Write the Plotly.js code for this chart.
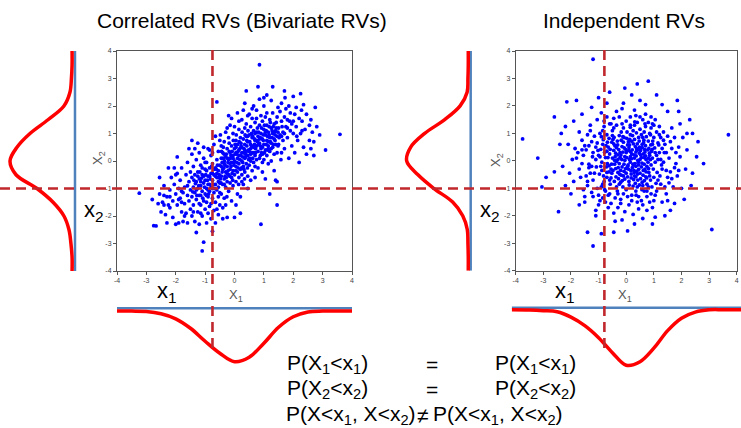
<!DOCTYPE html>
<html>
<head>
<meta charset="utf-8">
<script src="https://cdn.plot.ly/plotly-3.0.1.min.js"></script>
<style>html,body{margin:0;padding:0;background:#fff;}#chart{width:741px;height:428px;}</style>
</head>
<body>
<div id="chart"></div>
<script>
// ---- scatter data (X1, X2 pairs) ----
const corrPoints = [
[-3.24,-1.17],[-2.75,-2.35],[-2.67,-2.36],[-2.6,-1.55],[-2.55,-0.6],[-2.8,-1.4],[-2.5,-1.85],[-2.55,-1.2],
[-2.45,-1.5],[-2.4,-0.9],[-2.35,-1.95],[-2.3,-2.25],[-2.3,-1.3],[-2.25,-0.25],[-2.2,-1.7],[-2.2,-1.05],[-2.15,-0.6],[-2.1,-2.05],
[-2.1,-1.45],[-2.05,-0.85],[-2.0,-1.2],[-2.0,-2.3],[-1.95,-0.45],[-1.95,-1.6],[-1.9,-1.0],[-1.9,-2.25],[-1.85,-1.35],[-1.85,-0.7],
[-1.8,-1.85],[-1.8,-0.25],[-1.75,-1.15],[-1.75,-2.2],[-1.7,-0.95],[-1.7,-1.55],[-1.65,-0.5],[-1.65,-1.9],[-1.6,-1.25],[-1.6,-0.05],
[-1.6,-2.25],[-1.55,-0.75],[-1.55,-1.45],[-1.5,-1.05],[-1.5,-1.75],[-1.5,-0.4],[-2.4,-1.25],[-2.0,-0.5],[-1.7,-2.0],[-2.25,-1.6],
[-1.45,0.75],[-1.55,0.45],[-1.95,0.15],[-2.05,-0.25],[-1.8,-1.5],
[-1.45,-1.3],[-1.45,-0.6],[-1.45,-2.0],[-1.4,-0.95],[-1.4,-0.2],[-1.4,-1.6],[-1.35,-1.15],[-1.35,0.45],[-1.35,-2.2],[-1.3,-0.75],
[-1.3,-1.4],[-1.3,-2.6],[-1.3,0.05],[-1.25,-1.0],[-1.25,-1.85],[-1.25,-0.4],[-1.2,-1.25],[-1.2,-0.65],[-1.2,-2.3],[-1.2,0.3],
[-1.15,-0.9],[-1.15,-1.6],[-1.15,-0.15],[-1.1,-1.1],[-1.1,-3.27],[-1.1,-0.5],[-1.1,-2.0],[-1.05,-0.8],[-1.05,-1.45],[-1.05,-2.95],
[-1.05,0.1],[-1.0,-1.2],[-1.0,-0.3],[-1.0,-1.75],[-1.0,-0.7],[-0.95,-1.0],[-0.95,-2.25],[-0.95,-0.05],[-0.95,-1.5],[-0.9,-0.55],
[-0.9,-1.3],[-0.9,0.45],[-0.9,-1.9],[-0.85,-0.85],[-0.85,-0.25],[-0.85,-1.65],[-0.85,-1.1],[-0.8,-0.45],[-0.8,-2.1],[-0.8,-0.95],
[-0.8,0.2],[-0.75,-1.35],[-0.75,-0.7],[-0.75,-2.55],[-0.75,-0.1],[-0.7,-1.15],[-0.7,-0.5],[-0.7,-1.8],[-0.7,0.6],[-0.65,-0.85],
[-0.65,-0.25],[-0.65,-1.5],[-0.65,-2.25],[-0.6,-0.6],[-0.6,-1.05],[-0.6,0.05],[-0.6,2.15],[-0.55,-0.35],[-0.55,-1.3],[-0.55,-1.95],
[-0.55,0.35],[-0.5,-0.8],[-0.5,-0.15],[-0.5,-1.6],[-0.5,0.75],[-1.45,0.25],[-1.35,-0.5],[-1.25,0.65],[-1.15,-1.9],[-1.05,0.5],
[-0.95,-0.35],[-0.85,0.4],[-0.75,0.3],[-0.65,0.9],[-0.55,-0.95],[-1.4,-1.85],[-1.2,-1.55],[-1.0,-0.05],[-0.8,-1.55],[-0.6,-1.75],
[-1.3,-1.05],[-1.1,-0.25],[-0.9,-0.85],[-0.7,-0.3],[-0.5,-1.15],[-0.6,-0.45],[-0.9,-1.05],[-1.15,-1.25],[-0.75,-1.0],[-0.55,-0.6],
[-0.45,-0.55],[-0.45,0.1],[-0.45,-1.2],[-0.45,0.55],[-0.4,-0.3],[-0.4,-0.85],[-0.4,0.3],[-0.4,-1.7],[-0.35,-0.1],[-0.35,-0.65],
[-0.35,0.7],[-0.35,-1.35],[-0.3,-0.4],[-0.3,0.15],[-0.3,-0.95],[-0.3,1.05],[-0.25,-0.2],[-0.25,-0.75],[-0.25,0.45],[-0.25,-2.05],
[-0.2,-0.5],[-0.2,0.05],[-0.2,-1.1],[-0.2,0.85],[-0.15,-0.3],[-0.15,0.3],[-0.15,-0.8],[-0.15,1.3],[-0.1,-0.05],[-0.1,-0.6],
[-0.1,0.55],[-0.1,-1.45],[-0.05,-0.35],[-0.05,0.2],[-0.05,-0.9],[-0.05,1.0],[0.0,0.0],[0.0,-0.5],[0.0,0.45],[0.0,-2.05],
[0.05,-0.2],[0.05,0.3],[0.05,-0.75],[0.05,0.75],[0.1,0.1],[0.1,-0.4],[0.1,0.6],[0.1,-1.2],[0.15,-0.1],[0.15,0.4],
[0.15,-0.6],[0.15,1.15],[0.2,0.2],[0.2,-0.3],[0.2,0.85],[0.2,-1.9],[0.25,0.0],[0.25,0.5],[0.25,-0.5],[0.25,1.5],
[0.3,0.3],[0.3,-0.2],[0.3,0.8],[0.3,-0.85],[0.35,0.1],[0.35,0.6],[0.35,-0.4],[0.35,1.2],[0.4,0.35],[0.4,-0.1],
[0.4,0.9],[0.4,2.55],[0.45,0.2],[0.45,-0.55],[0.45,0.7],[0.45,1.65],[-0.48,0.95],[-0.42,-0.05],[-0.38,0.5],[-0.32,-0.55],
[-0.28,0.25],[-0.22,-0.35],[-0.18,0.65],[-0.12,-0.2],[-0.08,0.35],[-0.02,-0.15],[0.02,0.6],[0.08,-0.05],[0.12,0.35],[0.18,0.05],
[0.22,0.65],[0.28,-0.05],[0.32,0.45],[0.38,0.15],[0.42,0.55],[0.48,0.05],[-0.46,-0.8],[-0.36,-0.25],[-0.26,-1.3],[-0.16,-0.55],
[-0.06,-0.7],[0.04,-0.35],[0.14,-0.85],[0.24,-0.25],[0.34,-0.65],[0.44,-0.25],[-0.44,0.35],[-0.34,0.0],[-0.24,0.1],[-0.14,0.1],
[-0.04,0.75],[0.06,0.95],[0.16,0.7],[0.26,1.05],[0.36,0.95],[0.46,1.1],[-0.2,1.65],[0.1,1.75],[0.3,1.85],[0.45,-1.0],
[0.0,1.25],[-0.3,-1.6],[0.2,-1.3],[-0.4,-2.1],[0.35,2.1],[0.15,1.45],[-0.1,1.55],[0.05,-1.6],[-0.25,1.2],[0.4,1.35],
[0.5,0.35],[0.5,-0.15],[0.5,0.95],[0.5,1.7],[0.55,0.6],[0.55,0.0],[0.55,1.25],[0.55,-0.7],[0.6,0.3],[0.6,0.85],
[0.6,-0.35],[0.6,1.55],[0.65,0.5],[0.65,1.1],[0.65,-0.05],[0.65,2.0],[0.7,0.2],[0.7,0.75],[0.7,1.4],[0.7,-0.6],
[0.75,0.55],[0.75,0.05],[0.75,1.05],[0.75,1.85],[0.8,0.35],[0.8,0.9],[0.8,-0.25],[0.8,2.7],[0.85,0.65],[0.85,1.3],
[0.85,0.1],[0.85,3.5],[0.9,0.45],[0.9,1.0],[0.9,-2.3],[0.9,1.65],[0.95,0.25],[0.95,0.8],[0.95,1.45],[0.95,-0.4],
[1.0,0.6],[1.0,1.15],[1.0,0.05],[1.0,2.0],[1.05,0.4],[1.05,0.95],[1.05,1.6],[1.05,-0.65],[1.1,0.75],[1.1,0.2],
[1.1,1.3],[1.1,2.4],[1.15,0.55],[1.15,1.05],[1.15,-0.1],[1.2,0.85],[1.2,0.35],[1.2,1.5],[1.2,-1.2],[1.25,0.65],
[1.25,1.2],[1.25,0.0],[1.25,2.2],[1.3,0.5],[1.3,1.0],[1.3,1.75],[1.3,2.7],[1.35,0.8],[1.35,0.25],[1.35,1.35],
[1.4,0.6],[1.4,1.1],[1.4,-0.7],[1.45,0.9],[1.45,1.6],[1.45,-1.6],[1.45,0.3],[0.52,0.7],[0.58,1.0],[0.62,0.1],
[0.68,0.8],[0.72,0.45],[0.78,1.2],[0.82,0.6],[0.88,0.85],[0.92,1.2],[0.98,0.95],[1.02,0.3],[1.08,1.1],[1.12,0.9],
[1.18,1.25],[1.22,0.7],[1.28,0.85],[1.32,1.25],[1.38,0.95],[1.42,1.4],[1.48,0.55],[0.6,1.9],[0.85,2.25],[1.0,2.3],
[0.7,-0.2],[0.95,-0.05],[1.15,0.45],[0.55,0.45],[0.88,0.2],[1.35,-0.35],[1.48,1.95],[0.75,1.55],[1.1,1.75],[1.45,-0.75],
[1.5,1.2],[1.5,0.6],[1.55,1.8],[1.55,0.95],[1.6,1.45],[1.6,0.3],[1.6,2.1],[1.65,1.05],[1.65,0.75],[1.7,1.6],
[1.7,2.55],[1.7,0.45],[1.75,1.25],[1.75,1.9],[1.8,0.85],[1.8,1.5],[1.85,2.0],[1.85,0.1],[1.9,1.1],[1.9,1.75],
[1.95,0.55],[1.95,1.35],[2.0,2.35],[2.0,1.0],[2.05,1.7],[2.05,0.3],[2.1,1.25],[2.1,1.95],[2.15,0.75],[2.2,1.55],
[2.2,-0.05],[2.25,2.45],[2.25,1.0],[2.3,1.45],[2.35,2.05],[2.35,0.5],[2.4,1.15],[2.45,1.7],[2.45,0.25],[1.58,0.05],
[1.72,2.3],[1.88,1.45],[2.12,0.9],[2.28,1.85],[1.62,1.25],
[2.55,0.75],[2.6,1.5],[2.6,0.45],[2.65,1.05],[2.7,0.7],[2.75,1.95],[2.8,1.25],[2.9,0.95],[3.1,0.4],[3.59,0.97],[2.55,1.3],[2.7,0.2],
[-1.42,-1.12],[-1.33,-0.82],[-1.22,-0.9],[-1.12,-0.62],[-1.02,-0.95],[-0.92,-0.7],[-0.82,-0.65],[-0.72,-0.85],[-0.62,-0.3],[-0.52,-0.5],
[-0.42,-0.4],[-0.32,-0.15],[-0.22,-0.05],[-0.12,0.2],[-0.02,-0.05],[0.08,0.25],[0.18,0.45],[0.28,0.15],[0.38,0.25],[0.48,0.4],
[0.58,0.55],[0.68,0.6],[0.78,0.7],[0.88,0.55],[0.98,0.75],[1.08,0.6],[1.18,0.95],[1.28,1.1],[1.38,0.75],[1.48,1.05],
[-1.38,-0.7],[-1.28,-1.25],[-1.18,-0.4],[-1.08,-1.35],[-0.98,-0.5],[-0.88,-1.2],[-0.78,-0.2],[-0.68,-1.0],[-0.58,-0.15],[-0.48,-0.65],
[-0.38,0.1],[-0.28,-0.6],[-0.18,0.35],[-0.08,-0.45],[0.02,0.25],[0.12,-0.25],[0.22,0.55],[0.32,-0.3],[0.42,0.75],[0.52,0.1],
[0.62,0.9],[0.72,0.3],[0.82,1.05],[0.92,0.3],[1.02,1.3],[1.12,0.4],[1.22,1.4],[1.32,0.6],[1.42,1.2],[1.52,0.85],
[-1.25,-0.55],[-1.05,-0.55],[-0.85,-0.55],[-0.65,-0.55],[-0.45,-0.2],[-0.25,-0.45],[-0.05,0.1],[0.15,0.2],[0.35,0.4],[0.55,0.25],
[0.75,0.75],[0.95,0.5],[1.15,0.7],[1.35,1.05],[-0.95,-1.25],[-0.75,-0.45],[-0.55,-0.75],[-0.35,-0.85],[-0.15,-0.1],[0.05,0.5],
[0.25,0.3],[0.45,0.9],[0.65,0.3],[0.85,0.8],[1.05,1.05],[1.25,0.45],[-1.15,-0.75],[-0.35,0.25],[0.25,-0.75],[0.7,1.0],
[-1.6,-0.9],[-1.8,-1.1],[1.6,0.9],[1.8,1.2],[-2.2,-1.3],[2.0,1.45],[-1.9,-1.4],[1.7,1.0],[-2.4,-1.6],[2.3,1.1]
];
const indPoints = [
[0.12,0.05],[-0.3,0.22],[0.45,-0.31],[0.78,0.4],[-0.62,-0.18],[0.2,0.71],[-0.05,-0.66],[0.55,0.12],[-0.41,0.55],[0.33,-0.82],
[-0.78,0.31],[0.9,-0.15],[0.02,0.35],[-0.2,-0.35],[0.63,0.66],[-0.55,-0.62],[0.38,0.44],[-0.12,0.88],[0.71,-0.58],[-0.88,-0.05],
[0.25,-0.12],[-0.35,-0.02],[0.08,-0.3],[0.48,0.28],[-0.68,0.68],[0.85,0.2],[-0.15,0.52],[0.3,-0.55],[-0.5,0.1],[0.6,-0.9],
[0.15,0.95],[-0.92,0.42],[0.95,0.6],[-0.25,-0.85],[0.42,0.02],[-0.05,0.15],[0.18,-0.48],[-0.45,0.38],[0.68,-0.3],[-0.7,-0.42],
[0.05,0.58],[0.52,-0.65],[-0.32,0.72],[0.82,-0.42],[-0.6,0.25],[0.28,0.22],[-0.18,-0.52],[0.4,0.62],[-0.82,-0.55],[0.72,0.05],
[-0.08,-0.12],[0.35,-0.2],[-0.38,-0.28],[0.58,0.48],[-0.22,0.3],[0.1,-0.75],[-0.58,-0.85],[0.88,-0.7],[-0.95,0.15],[0.22,0.4],
[0.65,-0.12],[-0.48,0.78],[0.0,-0.45],[0.45,0.85],[-0.72,-0.22],[0.92,0.35],[-0.1,0.68],[0.3,0.1],[-0.28,-0.65],[0.75,-0.85],
[0.15,-0.05],[-0.42,0.02],[0.5,-0.45],[-0.15,-0.22],[0.62,0.25],[-0.65,0.5],[0.02,0.82],[0.38,-0.38],[-0.35,0.48],[0.8,0.72],
[-0.88,-0.35],[0.25,-0.92],[-0.02,0.42],[0.55,-0.22],[-0.52,-0.45],[0.98,-0.3],[0.12,0.58],[-0.22,0.12],[0.42,-0.7],[-0.75,0.12],
[0.7,0.55],[-0.3,-0.42],[0.2,0.25],[-0.6,-0.7],[0.88,0.05],[-0.12,-0.95],[0.48,0.5],[-0.45,0.62],[0.32,-0.1],[-0.05,0.02],
[0.6,0.85],[-0.85,0.6],[0.18,-0.62],[-0.38,0.28],[0.75,-0.2],[-0.18,0.75],[0.05,-0.2],[0.52,0.38],[-0.68,-0.1],[0.28,-0.35],
[-0.25,0.92],[0.85,-0.55],[-0.55,-0.3],[0.1,0.48],[0.65,0.12],[-0.08,-0.38],[0.4,-0.95],[-0.92,-0.2],[0.3,0.78],[-0.42,-0.12],
[0.95,0.1],[0.0,0.3],[-0.7,0.35],[0.58,-0.78],[-0.2,-0.78],[0.35,0.32],[-0.5,0.92],[0.72,-0.4],[0.15,0.15],[-0.3,0.05],
[0.45,-0.15],[-0.62,0.82],[0.82,0.45],[-0.1,-0.55],[0.22,-0.25],[-0.8,-0.75],[0.68,0.32],[-0.35,-0.95],[0.08,0.7],[0.5,0.05],
[1.2,0.3],[-1.1,0.5],[0.3,1.3],[-0.2,-1.4],[1.5,-0.6],[-1.4,-0.9],[0.9,1.2],[-0.8,1.25],[1.1,-1.1],[-1.2,-1.3],
[1.65,0.45],[-1.55,0.2],[0.15,1.6],[0.4,-1.5],[1.35,1.05],[-1.3,1.1],[1.0,-1.45],[-0.75,-1.5],[1.8,-0.1],[-1.7,-0.3],
[0.6,1.5],[-0.45,1.55],[1.45,-1.2],[-1.0,-1.6],[1.25,0.85],[-1.6,0.75],[0.75,-1.3],[-0.3,-1.7],[1.9,0.5],[-1.85,0.45],
[1.05,1.5],[-1.05,1.5],[1.7,-0.95],[-1.5,-1.3],[1.3,-0.3],[-1.25,-0.2],[0.5,1.15],[-0.6,-1.2],[1.15,0.65],[-1.15,0.9],
[0.2,-1.25],[-0.1,1.2],[1.55,0.1],[-1.45,-0.55],[0.85,1.0],[-0.95,1.0],[1.25,-0.85],[-1.05,-1.0],[1.05,-0.05],[-1.0,0.2],
[0.65,-1.1],[-0.5,1.1],[1.4,0.6],[-1.35,0.55],[0.0,1.45],[0.1,-1.6],[1.6,-0.4],[-1.6,-0.1],[0.95,1.35],[-0.85,-1.35],
[1.75,0.85],[-1.7,1.05],[0.45,-1.75],[-0.35,1.8],[1.2,1.25],[-1.25,-1.15],[1.0,0.85],[-0.9,-0.95],[1.85,-0.55],[-1.9,-0.75],
[0.7,1.7],[-0.7,1.6],[1.5,-1.45],[-1.1,-1.8],[0.3,1.85],[-0.05,-1.85],[1.95,0.15],[-1.8,0.1],[0.55,-1.45],[-0.55,1.35],
[1.35,-0.05],[-1.3,-0.45],[0.25,1.1],[0.35,-1.1],[1.1,0.2],[-1.1,0.05],[0.8,-0.95],[-0.7,0.95],[1.3,0.45],[-1.45,0.4],
[0.95,-1.7],[-0.9,1.75],[1.65,1.2],[-1.55,-1.05],[0.05,-1.3],[-0.15,1.35],[1.55,-0.8],[-1.4,0.95],[0.8,1.4],[-0.65,-1.7],
[1.45,0.3],[-1.25,0.7],[0.6,-1.6],[-0.4,-1.35],[1.15,-0.7],[-1.2,-0.7],[0.4,1.4],[-0.25,1.6],[1.75,-0.25],[-1.65,-0.6],
[1.1,1.05],[-1.0,-1.25],[0.9,-1.2],[-0.8,1.45],[1.6,0.7],[-1.5,0.55],[0.2,-1.45],[-0.2,-1.55],[1.4,-0.95],[-1.35,-0.25],
[0.7,1.25],[-0.6,1.35],[1.25,0.05],[-1.15,-0.45],[0.45,-1.3],[0.15,1.3],[1.5,0.9],[-1.3,1.3],[1.05,-1.25],[-0.95,-1.45],
[1.8,0.3],[-1.75,0.3],[0.5,1.6],[-0.45,-1.9],[1.3,-1.5],[-1.5,-1.5],[0.85,-1.5],[-0.15,1.9],[1.2,0.95],[-1.2,0.3],
[0.65,1.05],[-0.75,-1.1],[1.0,-0.6],[-1.05,0.65],[1.35,0.75],[-0.55,-1.55],[0.25,-1.95],[0.9,1.6],[1.65,-0.65],[-1.6,0.4],
[1.45,-0.35],[-1.4,-0.75],[0.35,1.65],[-0.35,1.3],[1.0,1.3],[-0.85,1.1],[0.75,-1.8],[-0.3,-1.2],[1.9,-0.35],[-1.95,0.05],
[2.2,0.4],[-2.1,0.6],[0.5,2.2],[-0.4,-2.2],[2.0,-1.0],[-2.0,-1.2],[1.5,1.8],[-1.6,1.7],[1.6,-1.8],[-1.7,-1.6],
[2.4,1.0],[-2.3,-0.2],[0.2,2.4],[0.05,-2.55],[2.6,0.7],[-2.45,-1.85],[1.85,2.2],[-2.15,2.15],[0.95,-2.3],[-0.9,-2.65],
[2.8,-0.1],[-2.9,-0.6],[0.8,2.9],[-1.4,-2.6],[2.4,-0.45],[-3.05,-0.95],[0.4,2.8],[-1.2,-3.1],[2.2,1.0],[-2.6,1.6],
[1.1,2.4],[-0.6,2.5],[1.4,-2.0],[-1.1,-2.0],[-0.05,2.65],[-0.1,2.1],[-0.45,-2.6],[-1.8,2.2],[-3.2,0.1],[-1.2,3.7],
[-3.75,0.8],[3.7,0.95],[3.1,-2.5],[2.1,-1.4],[-2.2,-0.9],[-2.4,0.6],[-1.9,1.45],[1.95,1.35],[2.35,-0.9],[-0.7,2.1],
[0.6,-2.1],[1.75,-1.55],[-2.35,1.0],[2.55,0.15],[-2.6,-0.4],[1.3,2.05],[-1.0,2.3],[0.3,-2.3],[-0.15,-2.15],[2.3,1.5],
[1.9,1.8],[-2.05,-0.45],[2.05,0.85],[-1.25,1.95],[0.7,2.05],[1.05,-2.05],[2.15,-0.3],[-2.2,1.25],
[0.07,-0.15],[0.33,0.52],[-0.27,0.41],[0.61,-0.52],[-0.53,-0.12],[0.16,0.33],[0.84,0.28],[-0.14,-0.72],[0.47,0.72],[-0.66,0.12],
[0.27,-0.68],[-0.37,-0.58],[0.73,0.88],[-0.83,0.77],[0.03,1.05],[0.57,-1.05],[-0.19,0.21],[0.41,-0.48],[1.03,0.47],[-0.97,-0.48],
[0.19,0.08],[-0.07,0.47],[0.67,0.41],[-0.43,-0.75],[0.11,-0.88],[0.93,-0.95],[-0.73,0.55],[0.37,1.02],[-0.29,-0.25],[0.79,-0.05],
[1.12,-0.42],[-1.08,-0.22],[0.52,0.22],[-0.12,0.32],[0.26,0.62],[-0.58,0.42],[0.62,-0.35],[0.0,-1.05],[0.88,0.95],[-0.9,0.88],
[1.28,-0.15],[-1.22,0.15],[0.15,1.22],[0.36,-1.25],[1.18,0.58],[-0.45,1.2],[0.75,-1.1],[-0.65,-1.25],[0.96,0.72],[-0.32,-1.1],
[0.55,0.95],[-0.85,-0.85],[1.08,-0.82],[-1.02,0.38],[0.44,-0.05],[-0.02,-0.28],[0.7,0.18],[-0.48,-0.35],[0.13,0.78],[0.29,-0.42],
[-0.16,0.05],[0.58,0.6],[-0.24,-0.48],[0.81,-0.28],[0.39,0.38],[-0.4,0.15],[0.94,0.42],[0.05,-0.58],[-0.7,-0.6],[0.66,-0.72],
[0.23,0.92],[-0.52,0.68],[1.15,0.05],[-0.1,-1.2],[0.48,-0.88],[1.38,0.3],[-1.35,-0.12],[0.31,1.42],[0.68,1.35],[-0.18,1.05],
[1.22,-0.55],[-0.78,-1.05],[0.02,0.12],[0.36,0.18],[-0.31,0.58],[0.74,-0.62],[0.17,-0.36],[0.89,0.58],[-0.62,-0.4],[0.47,0.42],
[-0.08,0.85],[0.57,-0.08],[0.26,-0.15],[-0.44,0.85],[1.05,0.3],[0.1,0.38],[-0.25,-0.1],[0.64,0.75],[0.35,-0.58],[0.8,0.1]
];

// ---- marginal density curves ----
const margGrid = [-4,-3.5,-3,-2.5,-2,-1.5,-1,-0.5,0,0.5,1,1.5,2,2.5,3,3.5,4];
const corrX2Density = [0.018,0.018,0.025,0.037,0.068,0.135,0.234,0.363,0.400,0.357,0.277,0.166,0.068,0.031,0.022,0.018,0.018];
const corrX1Density = [0.020,0.021,0.024,0.041,0.078,0.148,0.244,0.333,0.396,0.363,0.259,0.141,0.063,0.028,0.021,0.020,0.020];
const indX2Density  = [0.015,0.015,0.017,0.021,0.049,0.111,0.228,0.326,0.394,0.369,0.283,0.160,0.065,0.022,0.017,0.015,0.015];
const indX1Grid     = [-4.145,-3.5,-3,-2.5,-2,-1.5,-1,-0.5,0,0.5,1,1.5,2,2.5,3,3.5,4.155];
const indX1Density  = [0.015,0.017,0.022,0.030,0.070,0.133,0.222,0.333,0.426,0.400,0.300,0.170,0.078,0.033,0.016,0.015,0.015];

// thresholds
const corrX1Cut = -0.75, indX1Cut = -0.79, x2Cut = -1;
const tickValues = [-4,-3,-2,-1,0,1,2,3,4];
const tickLabels = ['-4','-3','-2','-1','0','1','2','3','4'];

const W = 741, H = 428;
const px = v => v / W, py = v => 1 - v / H;

const BLUE = '#0000ff', RED = '#ff0000', AXISBLUE = '#4f81bd', DASH = '#c0282d';
const font = 'Arial, "Liberation Sans", sans-serif';

const traces = [
  {type:'scatter', mode:'markers', x:corrPoints.map(p=>p[0]), y:corrPoints.map(p=>p[1]), xaxis:'x', yaxis:'y',
   marker:{size:3.8, color:BLUE}, hoverinfo:'skip'},
  {type:'scatter', mode:'markers', x:indPoints.map(p=>p[0]), y:indPoints.map(p=>p[1]), xaxis:'x2', yaxis:'y2',
   marker:{size:3.8, color:BLUE}, hoverinfo:'skip'},
  {type:'scatter', mode:'lines', x:[0,0], y:[-4,4], xaxis:'x3', yaxis:'y3', line:{color:AXISBLUE, width:2.5}},
  {type:'scatter', mode:'lines', x:corrX2Density, y:margGrid, xaxis:'x3', yaxis:'y3', line:{color:RED, width:3.5, shape:'spline', smoothing:1}},
  {type:'scatter', mode:'lines', x:[0,0], y:[-4,4], xaxis:'x4', yaxis:'y4', line:{color:AXISBLUE, width:2.5}},
  {type:'scatter', mode:'lines', x:indX2Density, y:margGrid, xaxis:'x4', yaxis:'y4', line:{color:RED, width:3.5, shape:'spline', smoothing:1}},
  {type:'scatter', mode:'lines', x:[-4,4], y:[0,0], xaxis:'x5', yaxis:'y5', line:{color:AXISBLUE, width:2.5}},
  {type:'scatter', mode:'lines', x:margGrid, y:corrX1Density, xaxis:'x5', yaxis:'y5', line:{color:RED, width:3.5, shape:'spline', smoothing:1}},
  {type:'scatter', mode:'lines', x:[-4.145,4.155], y:[0,0], xaxis:'x6', yaxis:'y6', line:{color:AXISBLUE, width:2.5}},
  {type:'scatter', mode:'lines', x:indX1Grid, y:indX1Density, xaxis:'x6', yaxis:'y6', line:{color:RED, width:3.5, shape:'spline', smoothing:1}}
];

const scatterAxis = (domain, anchor) => ({
  domain, anchor, range:[-4,4], tickvals:tickValues, ticktext:tickLabels, ticks:'outside', ticklen:3, tickcolor:'#555',
  tickfont:{size:7, color:'#444', family:font}, showgrid:false, zeroline:false, showline:true, linecolor:'#555',
  linewidth:1, mirror:true, fixedrange:true
});
const hidden = (domain, anchor, range) => ({domain, anchor, range, visible:false, fixedrange:true});

const yDomL = [py(271), py(51)], yDomR = [py(270.7), py(51)];
const dRange = [0.4615, -0.0308];

const layout = {
  width:W, height:H, margin:{l:0, r:0, t:0, b:0}, paper_bgcolor:'#fff', plot_bgcolor:'rgba(0,0,0,0)',
  showlegend:false, font:{family:font, color:'#000'},
  xaxis: scatterAxis([px(117), px(352)], 'y'),
  yaxis: scatterAxis(yDomL, 'x'),
  xaxis2: scatterAxis([px(515.7), px(736.7)], 'y2'),
  yaxis2: scatterAxis(yDomR, 'x2'),
  xaxis3: hidden([0, px(80)], 'y3', dRange),
  yaxis3: hidden(yDomL, 'x3', [-4,4]),
  xaxis4: hidden([px(395.7), px(475.7)], 'y4', dRange),
  yaxis4: hidden(yDomR, 'x4', [-4,4]),
  xaxis5: hidden([px(117), px(352)], 'y5', [-4,4]),
  yaxis5: hidden([py(370.6), py(304.1)], 'x5', dRange),
  xaxis6: hidden([px(511.7), 1], 'y6', [-4.145,4.155]),
  yaxis6: hidden([py(370), py(303.5)], 'x6', dRange),
  shapes: [
    {type:'line', xref:'paper', yref:'y', x0:0, x1:1, y0:x2Cut, y1:x2Cut, line:{color:DASH, width:2.6, dash:'10px,6px'}},
    {type:'line', xref:'x', yref:'paper', x0:corrX1Cut, x1:corrX1Cut, y0:py(348), y1:py(46), line:{color:DASH, width:2.6, dash:'10px,6px'}},
    {type:'line', xref:'x2', yref:'paper', x0:indX1Cut, x1:indX1Cut, y0:py(348), y1:py(46), line:{color:DASH, width:2.6, dash:'10px,6px'}}
  ],
  annotations: []
};

const ann = (text, x, y, size, opts={}) => Object.assign({
  text, x:px(x), y:py(y), xref:'paper', yref:'paper', showarrow:false, xanchor:'center', yanchor:'middle',
  font:{size, family:font, color:'#000'}
}, opts);
const small = {font:{size:13, family:font, color:'#555'}};

layout.annotations.push(
  ann('Correlated RVs (Bivariate RVs)', 242, 20, 21),
  ann('Independent RVs', 624, 20, 21),
  ann('x<sub>1</sub>', 167, 292, 22),
  ann('x<sub>1</sub>', 565, 292, 22),
  ann('x<sub>2</sub>', 94, 211, 22),
  ann('x<sub>2</sub>', 490, 211, 22),
  ann('X<sub>1</sub>', 236, 295, 13, small),
  ann('X<sub>1</sub>', 625, 295, 13, small),
  ann('X<sub>2</sub>', 98, 158, 13, Object.assign({textangle:-90}, small)),
  ann('X<sub>2</sub>', 496, 160, 13, Object.assign({textangle:-90}, small)),
  ann('P(X<sub>1</sub>&lt;x<sub>1</sub>)', 285, 364, 21, {xanchor:'left'}),
  ann('=', 432, 364, 21),
  ann('P(X<sub>1</sub>&lt;x<sub>1</sub>)', 493, 364, 21, {xanchor:'left'}),
  ann('P(X<sub>2</sub>&lt;x<sub>2</sub>)', 285, 389, 21, {xanchor:'left'}),
  ann('=', 432, 389, 21),
  ann('P(X<sub>2</sub>&lt;x<sub>2</sub>)', 493, 389, 21, {xanchor:'left'}),
  ann('P(X&lt;x<sub>1</sub>, X&lt;x<sub>2</sub>)', 284, 415, 21, {xanchor:'left'}),
  ann('≠', 423, 415, 21),
  ann('P(X&lt;x<sub>1</sub>, X&lt;x<sub>2</sub>)', 431, 415, 21, {xanchor:'left'})
);

Plotly.newPlot('chart', traces, layout, {staticPlot:true, displayModeBar:false});
</script>
</body>
</html>
